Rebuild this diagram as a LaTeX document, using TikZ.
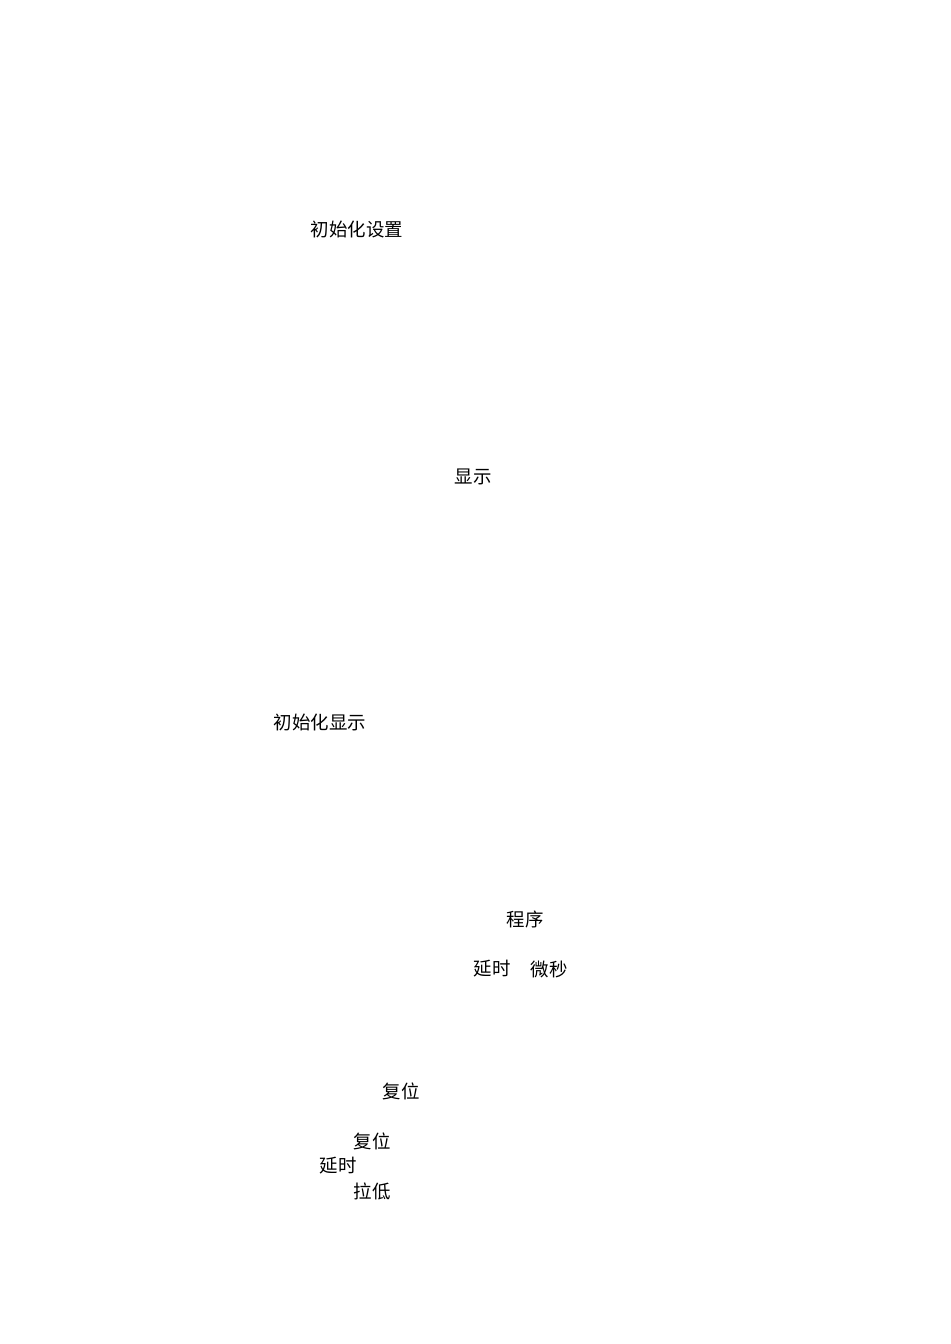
\documentclass[tikz,border=0pt]{standalone}
\usepackage{fontspec}
\newfontfamily\cjk{Noto Sans CJK SC}
\usetikzlibrary{positioning}

\tikzset{
    lbl/.style={inner sep=0pt, font=\cjk\fontsize{10.5}{12}\selectfont}
}

\begin{document}
\begin{tikzpicture}[x=0.02cm, y=-0.02cm]
        \useasboundingbox[fill=white] (0,0) rectangle (950,1344);
        \node[lbl] (initset) at (357,230) {初始化设置};
        \node[lbl] (show) at (473,477) {显示};
        \node[lbl] (initshow) at (320,722) {初始化显示};
        \node[lbl] (prog) at (525,919) {程序};
        \node[lbl] (delay) at (492,969) {延时};
        \node[lbl] (usec) at (549,969) {微秒};
        \node[lbl] (reset) at (401,1091) {复位};
        \node[lbl] (resetb) at (372,1141) {复位};
        \node[lbl] (delayb) at (338,1166) {延时};
        \node[lbl] (pull) at (372,1191) {拉低};
    \end{tikzpicture}
\end{document}
